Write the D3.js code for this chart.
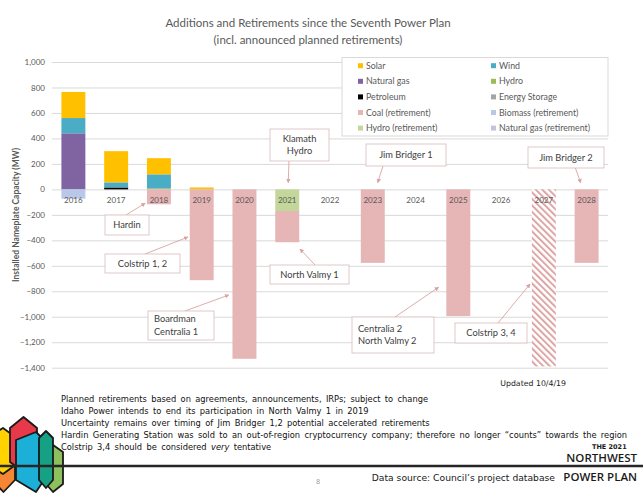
<!DOCTYPE html>
<html><head><meta charset="utf-8">
<script src="https://cdn.jsdelivr.net/npm/d3@7"></script>
<style>
html,body{margin:0;padding:0;background:#fff;}
svg{display:block;}
</style></head>
<body>
<svg id="chart" width="643" height="494"></svg>
<script>
// ---------- DATA ----------
const years = [2016,2017,2018,2019,2020,2021,2022,2023,2024,2025,2026,2027,2028];
const petroleum     = [0,15,0,0,0,0,0,0,0,0,0,0,0];
const naturalGas    = [440,0,0,0,0,0,0,0,0,0,0,0,0];
const hydro         = [0,0,8,0,0,0,0,0,0,0,0,0,0];
const energyStorage = [0,0,0,0,0,0,0,0,0,0,0,0,0];
const wind          = [120,40,110,0,0,0,0,0,0,0,0,0,0];
const solar         = [205,245,127,15,0,0,0,0,0,0,0,0,0];
const hydroRet      = [0,0,0,0,0,-170,0,0,0,0,0,0,0];
const biomassRet    = [-73,0,0,0,0,0,0,0,0,0,0,0,0];
const gasRet        = [0,0,0,0,0,0,0,0,0,0,0,0,0];
const coalRet       = [0,0,-117,-713,-1330,-245,0,-577,0,-995,0,-1390,-577];
const tentativeYears = [2027];
const yTicks = [-1400,-1200,-1000,-800,-600,-400,-200,0,200,400,600,800,1000];

const seriesKeys  = ["petroleum","naturalGas","hydro","energyStorage","wind","solar","hydroRet","biomassRet","gasRet","coalRet"];
const seriesArrays = [petroleum,naturalGas,hydro,energyStorage,wind,solar,hydroRet,biomassRet,gasRet,coalRet];
const legendLabels = ["Solar","Wind","Natural gas","Hydro","Petroleum","Energy Storage","Coal (retirement)","Biomass (retirement)","Hydro (retirement)","Natural gas (retirement)"];
const legendKeys   = ["solar","wind","naturalGas","hydro","petroleum","energyStorage","coalRet","biomassRet","hydroRet","gasRet"];

const annotations = [
  {text:["Klamath","Hydro"], year:2021, value:55},
  {text:["Jim Bridger 1"], year:2023, value:55},
  {text:["Jim Bridger 2"], year:2028, value:55},
  {text:["Hardin"], year:2018, value:-110},
  {text:["Colstrip 1, 2"], year:2019, value:-375},
  {text:["Boardman","Centralia 1"], year:2020, value:-830},
  {text:["North Valmy 1"], year:2021, value:-470},
  {text:["Centralia 2","North Valmy 2"], year:2025, value:-770},
  {text:["Colstrip 3, 4"], year:2027, value:-745}
];
const footerLines = [
  "Planned retirements based on agreements, announcements, IRPs; subject to change",
  "Idaho Power intends to end its participation in North Valmy 1 in 2019",
  "Uncertainty remains over timing of Jim Bridger 1,2 potential accelerated retirements",
  "Hardin Generating Station was sold to an out-of-region cryptocurrency company; therefore no longer \u201ccounts\u201d towards the region"
];

// ---------- STYLE / LAYOUT ----------
const colors = {
  solar:"#ffc000", wind:"#4bacc6", naturalGas:"#8064a2", hydro:"#9bbb59",
  petroleum:"#000000", energyStorage:"#a5a5a5", coalRet:"#e6b5b5",
  biomassRet:"#b9c8e8", hydroRet:"#c4d79b", gasRet:"#ccc1da"
};
const annLayout = [
  {box:[270,129,59,32], from:[289,161], side:"center", dx:1},
  {box:[366,144,80,22], from:[383,166], side:"center", dx:5},
  {box:[528,147,76,21], from:[575,167], side:"center", dx:-6},
  {box:[105,215,44,20], from:[126,215], side:"left", dx:-2},
  {box:[105,254,75,19], from:[145,254], side:"left", dx:-2},
  {box:[148,311,66,29], from:[185,311], side:"left", dx:-4},
  {box:[270,265,79,19], from:[315,265], side:"right", dx:1},
  {box:[352,317,82,36], from:[395,317], side:"left", dx:-8},
  {box:[455,323,72,20], from:[498,323], side:"left", dx:-2}
];

const svg = d3.select("#chart");
const chartFont = "Lato, 'Open Sans', sans-serif";
const noteFont = "'DejaVu Sans', Verdana, sans-serif";

const x = d3.scaleBand().domain(years).range([52, 608]).paddingInner(0.44).paddingOuter(0.22);
const y = d3.scaleLinear().domain([-1400, 1000]).range([367.7, 62]);

// defs
const defs = svg.append("defs");
const pat = defs.append("pattern").attr("id","hatch").attr("patternUnits","userSpaceOnUse")
  .attr("width",4.6).attr("height",4.6).attr("patternTransform","rotate(-45)");
pat.append("rect").attr("width",4.6).attr("height",4.6).attr("fill","#ffffff");
pat.append("line").attr("x1",1).attr("y1",0).attr("x2",1).attr("y2",4.6)
  .attr("stroke","#dca6a6").attr("stroke-width",2);
defs.append("marker").attr("id","arrow").attr("viewBox","0 0 10 10").attr("refX",8).attr("refY",5)
  .attr("markerWidth",5).attr("markerHeight",5).attr("orient","auto-start-reverse")
  .append("path").attr("d","M0,0 L10,5 L0,10 z").attr("fill","#d9a3a3");

// title
const title = svg.append("text").attr("x",308).attr("text-anchor","middle")
  .attr("font-family",chartFont).attr("font-size",11.5).attr("fill","#595959");
title.append("tspan").attr("x",308).attr("y",27).text("Additions and Retirements since the Seventh Power Plan");
title.append("tspan").attr("x",308).attr("y",44).text("(incl. announced planned retirements)");

// gridlines + y axis
const yAxis = d3.axisLeft(y).tickValues(yTicks).tickFormat(d3.format(",")).tickSize(-(608-52)).tickPadding(7);
const gy = svg.append("g").attr("transform","translate(52,0)").call(yAxis);
gy.select(".domain").remove();
gy.selectAll(".tick line").attr("stroke","#d9d9d9").attr("stroke-width",1);
gy.selectAll(".tick text").attr("font-family",chartFont).attr("font-size",8).attr("fill","#595959");

// y title
svg.append("text").attr("transform","translate(19,215) rotate(-90)").attr("text-anchor","middle")
  .attr("font-family",chartFont).attr("font-size",8.5).attr("font-weight","bold").attr("fill","#595959")
  .text("Installed Nameplate Capacity (MW)");

// stacked bars
const table = years.map((yr,i)=>{
  const row = {year:yr};
  seriesKeys.forEach((k,j)=>row[k]=seriesArrays[j][i]);
  return row;
});
const stacked = d3.stack().keys(seriesKeys).offset(d3.stackOffsetDiverging)(table);
const gBars = svg.append("g");
stacked.forEach(s=>{
  gBars.selectAll(null).data(s.filter(d=>d[1]!==d[0])).enter().append("rect")
    .attr("x",d=>x(d.data.year)).attr("width",x.bandwidth())
    .attr("y",d=>y(Math.max(d[0],d[1])))
    .attr("height",d=>Math.abs(y(d[0])-y(d[1])))
    .attr("fill",d=> (s.key==="coalRet" && tentativeYears.includes(d.data.year)) ? "url(#hatch)" : colors[s.key]);
});

// category labels
svg.append("g").selectAll("text").data(years).enter().append("text")
  .attr("x",d=>x(d)+x.bandwidth()/2).attr("y",y(0)+14)
  .attr("text-anchor","middle").attr("font-family",chartFont).attr("font-size",8).attr("fill","#595959")
  .text(d=>d);

// legend
const lg = svg.append("g");
lg.append("rect").attr("x",342).attr("y",57.5).attr("width",266).attr("height",78.5)
  .attr("fill","#fff").attr("stroke","#d9d9d9").attr("stroke-width",1);
legendKeys.forEach((k,i)=>{
  const col = i%2, row = Math.floor(i/2);
  const lx = col===0 ? 358 : 491;
  const ly = 65.7 + row*15.6;
  lg.append("rect").attr("x",lx).attr("y",ly-2.5).attr("width",5).attr("height",5).attr("fill",colors[k]);
  lg.append("text").attr("x",lx+8).attr("y",ly+3).attr("font-family",chartFont).attr("font-size",8.8)
    .attr("fill","#595959").text(legendLabels[i]);
});

// annotations
const ga = svg.append("g");
annotations.forEach((a,i)=>{
  const L = annLayout[i];
  let tx;
  if (L.side==="left") tx = x(a.year) + L.dx;
  else if (L.side==="right") tx = x(a.year) + x.bandwidth() + L.dx;
  else tx = x(a.year) + x.bandwidth()/2 + L.dx;
  const ty = y(a.value);
  ga.append("line").attr("x1",L.from[0]).attr("y1",L.from[1]).attr("x2",tx).attr("y2",ty)
    .attr("stroke","#d9a3a3").attr("stroke-width",0.9).attr("marker-end","url(#arrow)");
  const [bx,by,bw,bh] = L.box;
  ga.append("rect").attr("x",bx).attr("y",by).attr("width",bw).attr("height",bh)
    .attr("fill","#fff").attr("stroke","#dcc2c2").attr("stroke-width",0.9);
  const multi = a.text.length>1;
  const t = ga.append("text").attr("font-family",chartFont).attr("font-size",9.3).attr("fill","#404040");
  a.text.forEach((line,j)=>{
    const ts = t.append("tspan").text(line);
    if (multi && (bw<62)) {
      ts.attr("x",bx+bw/2).attr("text-anchor","middle").attr("y",by+bh/2-3+j*12);
    } else if (multi) {
      ts.attr("x",bx+6).attr("y",by+bh/2-2+j*12.5 - (a.text.length-1)*1.5);
    } else {
      ts.attr("x",bx+bw/2).attr("text-anchor","middle").attr("y",by+bh/2+3.2);
    }
  });
});

// updated
svg.append("text").attr("x",566).attr("y",386).attr("text-anchor","end")
  .attr("font-family",noteFont).attr("font-size",7.8).attr("fill","#1a1a1a").text("Updated 10/4/19");

// footer notes
const fg = svg.append("g").attr("font-family",noteFont).attr("font-size",8.3).attr("fill","#111").attr("word-spacing",1.7);
const lineY = [402, 414, 426, 438, 450];
footerLines.forEach((ln,i)=>{
  fg.append("text").attr("x",61).attr("y",lineY[i]).text(ln);
});
const last = fg.append("text").attr("x",61).attr("y",lineY[4]);
last.append("tspan").text("Colstrip 3,4 should be considered ");
last.append("tspan").attr("font-style","italic").text("very");
last.append("tspan").text(" tentative");

// logo
const hex = (x0,x1,top,sh1,sh2,bot,cx)=>{
  const c = cx===undefined ? (x0+x1)/2 : cx;
  return `M${c},${top} L${x1},${sh1} L${x1},${sh2} L${c},${bot} L${x0},${sh2} L${x0},${sh1} Z`;
};
const logo = svg.append("g").attr("stroke","#1a1a1a").attr("stroke-width",1.8).attr("stroke-linejoin","round");
logo.append("path").attr("d",hex(-8,15,440,448,480,492)).attr("fill","#f58634");
logo.append("path").attr("d",hex(-10,14,428,436,466,474,3)).attr("fill","#ffd200");
logo.append("path").attr("d",hex(10,37,417,428,462,472)).attr("fill","#e8394a");
logo.append("path").attr("d",hex(16,44,432,440,480,492,36)).attr("fill","#1cb0d8");
logo.append("path").attr("d",hex(46,63,445,452,484,492,53)).attr("fill","#8dc15e");
logo.append("path").attr("d",hex(39,53,431,438,480,488)).attr("fill","#16a084");

// rule line
svg.append("line").attr("x1",0).attr("x2",643).attr("y1",466).attr("y2",466)
  .attr("stroke","#262626").attr("stroke-width",2.4);

// page number
svg.append("text").attr("x",318).attr("y",484).attr("text-anchor","middle")
  .attr("font-family",noteFont).attr("font-size",6.5).attr("fill","#999").text("8");

// data source
svg.append("text").attr("x",555).attr("y",481).attr("text-anchor","end")
  .attr("font-family",noteFont).attr("font-size",9.2).attr("fill","#1a1a1a").text("Data source: Council\u2019s project database");

// brand
const brand = svg.append("g").attr("fill","#1a1a1a");
brand.append("text").attr("x",592).attr("y",449).attr("font-family",noteFont).attr("font-size",6.5).attr("font-weight","bold").text("THE 2021");
brand.append("text").attr("x",637).attr("y",462).attr("text-anchor","end").attr("font-family","'Open Sans', sans-serif")
  .attr("font-size",11.5).attr("font-weight","600").text("NORTHWEST");
brand.append("text").attr("x",637).attr("y",481).attr("text-anchor","end").attr("font-family","'Open Sans', sans-serif")
  .attr("font-size",11.5).attr("font-weight","600").text("POWER PLAN");
</script>
</body></html>
